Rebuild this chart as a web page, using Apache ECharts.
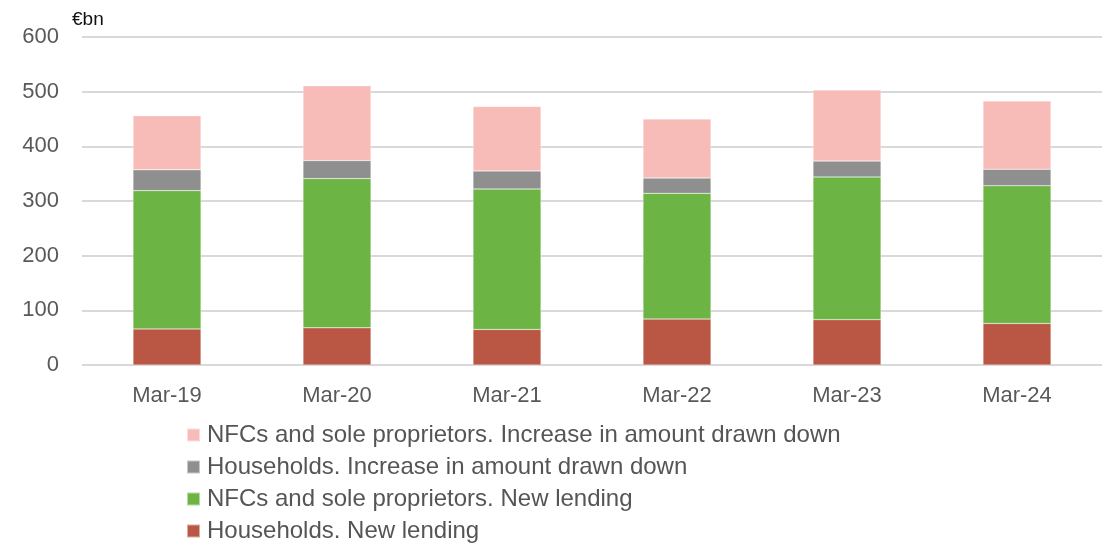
<!DOCTYPE html>
<html><head><meta charset="utf-8">
<script src="https://cdn.jsdelivr.net/npm/echarts@6/dist/echarts.min.js"></script>
<style>html,body{margin:0;padding:0;background:#fff}#c{width:1107px;height:543px}</style>
</head><body><div id="c"></div>
<script>
const categories = ['Mar-19','Mar-20','Mar-21','Mar-22','Mar-23','Mar-24'];
const hhNew = [66, 68, 65, 84, 83, 76];
const nfcNew = [253, 273, 257, 230, 261, 252];
const hhDrawn = [38, 33, 33, 28, 29, 30];
const nfcDrawn = [99, 137, 118, 108, 130, 125];
const names = [
  'Households. New lending',
  'NFCs and sole proprietors. New lending',
  'Households. Increase in amount drawn down',
  'NFCs and sole proprietors. Increase in amount drawn down'
];
const colors = ['#b95744', '#6cb545', '#8f8f8f', '#f7bcb8'];
const values = [hhNew, nfcNew, hhDrawn, nfcDrawn];
const font = 'Liberation Sans, Arial, sans-serif';
const chart = echarts.init(document.getElementById('c'));
chart.setOption({
  animation: false,
  textStyle: { fontFamily: font },
  grid: { left: 82, right: 5, top: 37, bottom: 178 },
  graphic: [{ type: 'text', left: 72, top: 10, style: { text: '€bn', font: '19px ' + font, fill: '#111' } }],
  legend: {
    orient: 'vertical', left: 186, top: 423, height: 120, padding: 0,
    itemWidth: 13, itemHeight: 13, itemGap: 8,
    data: names.slice().reverse(),
    textStyle: { fontSize: 24, lineHeight: 23, color: '#555', fontFamily: font, padding: [0,0,0,2] },
    icon: 'rect'
  },
  xAxis: {
    type: 'category', data: categories,
    axisLine: { show: false }, axisTick: { show: false },
    axisLabel: { fontSize: 22, color: '#595959', margin: 20, fontFamily: font }
  },
  yAxis: {
    type: 'value', min: 0, max: 600, interval: 100,
    axisLine: { show: false }, axisTick: { show: false },
    axisLabel: { fontSize: 22, color: '#595959', margin: 23, fontFamily: font },
    splitLine: { lineStyle: { color: '#d9d9d9', width: 2 } }
  },
  series: values.map((v, i) => ({
    name: names[i], type: 'bar', stack: 'a', data: v, barWidth: '40%',
    itemStyle: { color: colors[i], borderColor: 'rgba(255,255,255,0.5)', borderWidth: 0.5 }
  }))
});
</script></body></html>
